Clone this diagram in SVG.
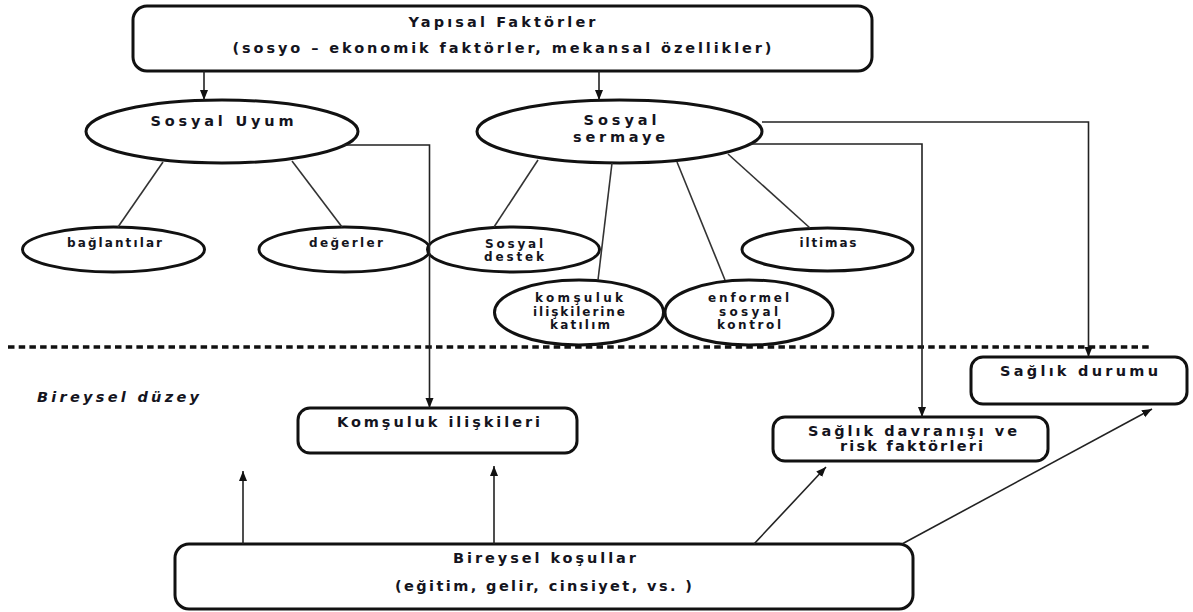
<svg xmlns="http://www.w3.org/2000/svg" width="1193" height="612" viewBox="0 0 1193 612">
<defs>
<marker id="arr" markerUnits="userSpaceOnUse" markerWidth="10" markerHeight="10" viewBox="0 0 10 10" refX="10" refY="5" orient="auto">
<path d="M0,1 L10,5 L0,9 Z" fill="#111"/>
</marker>
<style>
.box{fill:#fff;stroke:#111;stroke-width:3}
.ell{fill:#fff;stroke:#111;stroke-width:3}
.con{fill:none;stroke:#333;stroke-width:1.6}
.arrow{fill:none;stroke:#222;stroke-width:1.6;marker-end:url(#arr)}
.sep{stroke:#111;stroke-width:3.5;stroke-dasharray:6.5 4.2}
text{font-family:"DejaVu Sans","Liberation Sans",sans-serif;font-weight:bold;fill:#141420;text-anchor:middle}
.lg{font-size:14.5px}
.sm{font-size:12px}
.it{font-style:italic;font-size:14.5px;text-anchor:start}
</style>
</defs>
<rect width="1193" height="612" fill="#fff"/>
<line class="sep" x1="8" y1="347" x2="1152" y2="347"/>

<g id="yapisal">
<rect class="box" x="133" y="6" width="739" height="65" rx="14"/>
<text class="lg" x="502" y="27" textLength="187" lengthAdjust="spacing">Yapısal Faktörler</text>
<text class="lg" x="502" y="53" textLength="539" lengthAdjust="spacing">(sosyo – ekonomik faktörler, mekansal özellikler)</text>
</g>

<g id="sosyal-uyum">
<ellipse class="ell" cx="222" cy="131.5" rx="136" ry="31.5"/>
<text class="lg" x="222" y="126" textLength="143" lengthAdjust="spacing">Sosyal Uyum</text>
</g>

<g id="sosyal-sermaye">
<ellipse class="ell" cx="619.5" cy="131.5" rx="142.5" ry="31.5"/>
<text class="lg" x="620" y="125" textLength="73" lengthAdjust="spacing">Sosyal</text>
<text class="lg" x="619" y="142" textLength="92" lengthAdjust="spacing">sermaye</text>
</g>

<g id="baglantilar">
<ellipse class="ell" cx="113.5" cy="249.5" rx="91" ry="22.5"/>
<text class="sm" x="114.5" y="247" textLength="95" lengthAdjust="spacing">bağlantılar</text>
</g>

<g id="degerler">
<ellipse class="ell" cx="344.5" cy="249.5" rx="85.5" ry="22.5"/>
<text class="sm" x="346" y="247" textLength="74" lengthAdjust="spacing">değerler</text>
</g>

<g id="sosyal-destek">
<ellipse class="ell" cx="513.5" cy="249.5" rx="86" ry="22.5"/>
<text class="sm" x="514" y="248" textLength="58" lengthAdjust="spacing">Sosyal</text>
<text class="sm" x="514" y="261" textLength="60" lengthAdjust="spacing">destek</text>
</g>

<g id="iltimas">
<ellipse class="ell" cx="827.5" cy="249.5" rx="85.5" ry="21.5"/>
<text class="sm" x="828" y="247" textLength="57" lengthAdjust="spacing">iltimas</text>
</g>

<g id="komsuluk-katilim">
<ellipse class="ell" cx="579" cy="312.5" rx="84.5" ry="32.5"/>
<text class="sm" x="579" y="302" textLength="88" lengthAdjust="spacing">komşuluk</text>
<text class="sm" x="579" y="316" textLength="92" lengthAdjust="spacing">ilişkilerine</text>
<text class="sm" x="580" y="329" textLength="60" lengthAdjust="spacing">katılım</text>
</g>

<g id="enformel">
<ellipse class="ell" cx="749" cy="312.5" rx="84" ry="32.5"/>
<text class="sm" x="748.5" y="302" textLength="81" lengthAdjust="spacing">enformel</text>
<text class="sm" x="748.5" y="316" textLength="59" lengthAdjust="spacing">sosyal</text>
<text class="sm" x="749" y="329" textLength="64" lengthAdjust="spacing">kontrol</text>
</g>

<g id="bireysel-duzey">
<text class="it" x="37" y="402" textLength="162" lengthAdjust="spacing">Bireysel düzey</text>
</g>

<g id="komsuluk-iliskileri">
<rect class="box" x="298" y="408" width="279" height="45" rx="12"/>
<text class="lg" x="438.5" y="427" textLength="203" lengthAdjust="spacing">Komşuluk ilişkileri</text>
</g>

<g id="saglik-davranisi">
<rect class="box" x="773" y="417" width="275" height="44" rx="12"/>
<text class="lg" x="912.5" y="436" textLength="209" lengthAdjust="spacing">Sağlık davranışı ve</text>
<text class="lg" x="911.5" y="451" textLength="143" lengthAdjust="spacing">risk faktörleri</text>
</g>

<g id="saglik-durumu">
<rect class="box" x="971" y="357" width="216" height="47" rx="12"/>
<text class="lg" x="1079" y="376" textLength="158" lengthAdjust="spacing">Sağlık durumu</text>
</g>

<g id="bireysel-kosullar">
<rect class="box" x="175" y="544" width="738" height="65" rx="14"/>
<text class="lg" x="544.5" y="563" textLength="183" lengthAdjust="spacing">Bireysel koşullar</text>
<text class="lg" x="543.5" y="591" textLength="297" lengthAdjust="spacing">(eğitim, gelir, cinsiyet, vs. )</text>
</g>

<g id="connectors">
<line class="arrow" x1="204" y1="71" x2="204" y2="100"/>
<line class="arrow" x1="599" y1="71" x2="599" y2="100"/>
<line class="con" x1="163" y1="162" x2="118" y2="227"/>
<line class="con" x1="292" y1="161" x2="342" y2="227"/>
<line class="con" x1="538" y1="160" x2="494" y2="227"/>
<line class="con" x1="612" y1="163" x2="598" y2="280"/>
<line class="con" x1="677" y1="162" x2="725" y2="280"/>
<line class="con" x1="728" y1="154" x2="810" y2="228"/>
<path class="arrow" d="M343,145 H429.5 V408"/>
<path class="arrow" d="M762,122 H1088.5 V357"/>
<path class="arrow" d="M750,144 H922 V417"/>
<line class="arrow" x1="243" y1="544" x2="243" y2="471"/>
<line class="arrow" x1="494" y1="544" x2="494" y2="466"/>
<line class="arrow" x1="754" y1="544" x2="826" y2="467"/>
<line class="arrow" x1="902" y1="544" x2="1152" y2="409"/>
</g>
</svg>
